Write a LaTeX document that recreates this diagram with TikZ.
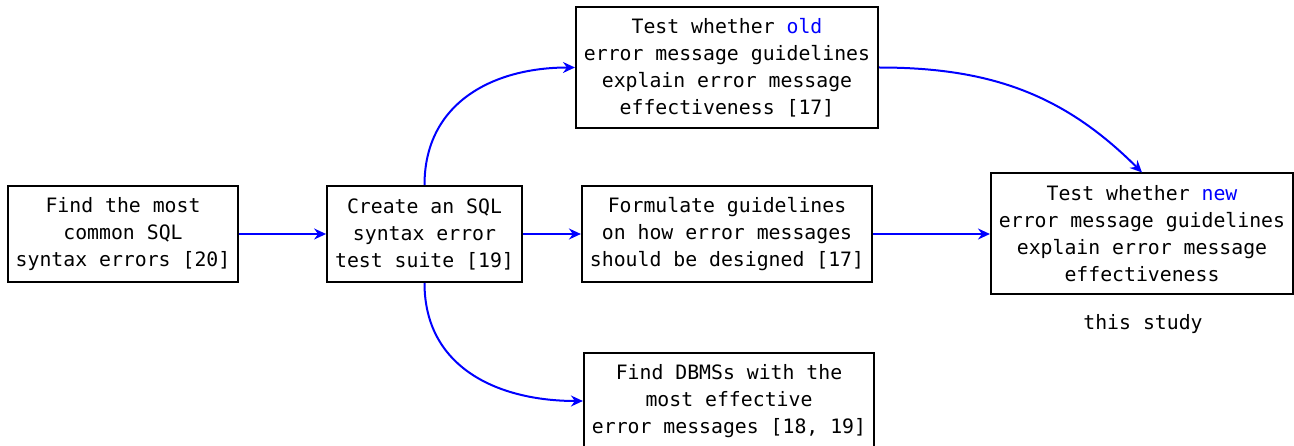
\documentclass[tikz,border=0pt]{standalone}
\usepackage{fontspec}
\setmonofont{DejaVu Sans Mono}
\usetikzlibrary{arrows.meta}
\tikzset{
  box/.style={draw=black, line width=2pt, align=center, inner xsep=8pt, inner ysep=6pt,
    font=\ttfamily\fontsize{19.8}{27}\selectfont},
  three/.style={minimum height=96pt},
  four/.style={minimum height=121pt},
  conn/.style={draw=blue, line width=2pt, -{Stealth[length=12pt,width=11pt,inset=4pt]}},
  plain/.style={font=\ttfamily\fontsize{19.8}{27}\selectfont}
}
\begin{document}
\begin{tikzpicture}[x=1pt,y=1pt]
\useasboundingbox (0,0) rectangle (1294,-446);
\node[box,three] (a) at (123,-234) {Find the most\\common SQL\\syntax errors [20]};
\node[box,three] (b) at (424.5,-234) {Create an SQL\\syntax error\\test suite [19]};
\node[box,four] (c) at (727,-67.5) {Test whether \textcolor{blue}{old}\\error message guidelines\\explain error message\\effectiveness [17]};
\node[box,three] (d) at (727,-234) {Formulate guidelines\\on how error messages\\should be designed [17]};
\node[box,three] (e) at (729,-401) {Find DBMSs with the\\most effective\\error messages [18, 19]};
\node[box,four] (f) at (1142,-234) {Test whether \textcolor{blue}{new}\\error message guidelines\\explain error message\\effectiveness};
\node[plain] (s) at (1143,-324) {this study};
\draw[conn] (a) -- (b);
\draw[conn] (b) -- (d);
\draw[conn] (d) -- (f);
\draw[conn] (b.north) to[out=90,in=180,looseness=1.1] (c.west);
\draw[conn] (b.south) to[out=-90,in=180,looseness=1.1] (e.west);
\draw[conn] (c.east) to[out=0,in=135] (f.north);
\end{tikzpicture}
\end{document}
